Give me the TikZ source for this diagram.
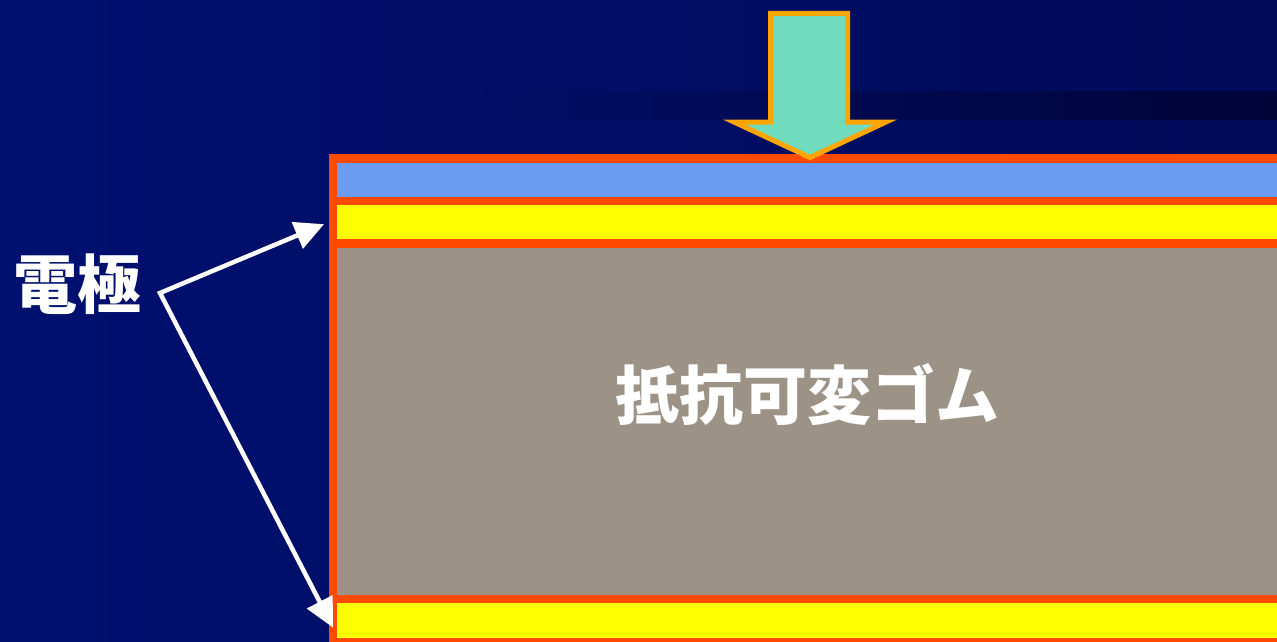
\documentclass[tikz,border=0pt]{standalone}
\usepackage{fontspec}
\newfontfamily\jpfont{Noto Sans CJK JP}
\definecolor{bgleft}{HTML}{00106F}
\definecolor{bgright}{HTML}{000A5A}
\definecolor{banddark}{HTML}{000438}
\definecolor{framered}{HTML}{FF4A00}
\definecolor{coverblue}{HTML}{6C9CF2}
\definecolor{elecyellow}{HTML}{FFFF00}
\definecolor{rubbergray}{HTML}{9C9285}
\definecolor{pressgreen}{HTML}{70DBBD}
\definecolor{pressedge}{HTML}{FFA500}
\usetikzlibrary{positioning,arrows.meta,calc}

\begin{document}
\begin{tikzpicture}[
  x=1pt, y=-1pt,
  layer/.style={
    draw=none, inner sep=0pt, anchor=north west,
    minimum width=940pt,
  },
  jplabel/.style={
    font=\jpfont\bfseries\fontsize{64}{64}\selectfont,
    text=white, inner sep=0pt,
  },
  pointer/.style={
    draw=white, line width=4.5pt, line join=miter,
    {Triangle[length=29pt,width=28pt]}-{Triangle[length=29pt,width=28pt]},
  },
  pressarrow/.style={
    draw=pressedge, fill=pressgreen, line width=5pt, line join=miter,
  },
]
\useasboundingbox (0,0) rectangle (1277,642);

% === BACKGROUND ===
\shade[left color=bgleft, right color=bgright] (0,0) rectangle (1277,642);
\shade[left color=bgleft!65!bgright, right color=banddark] (450,91) rectangle (1277,119);

% === SENSOR STACK ===
\node[layer, fill=framered, minimum width=948pt, minimum height=488pt] (frame) at (329,154) {};
\node[layer, fill=coverblue, minimum height=34pt] (cover) at (337,163) {};
\node[layer, fill=elecyellow, minimum height=34pt] (elecA) at (337,205) {};
\node[layer, fill=rubbergray, minimum height=346.6pt] (rubber) at (337,247.7) {};
\node[layer, fill=elecyellow, minimum height=34.7pt] (elecB) at (337,603) {};

\node[jplabel] (rubbername) at (807,395) {抵抗可変ゴム};

% --- ELECTRODE LABEL (fork to both yellow layers) ---
\node[jplabel] (eleclabel) at (77,284) {電極};
\coordinate (fork) at (160,293);
\coordinate (tipA) at ($(elecA.west)+(-13,2)$);
\coordinate (tipB) at ($(elecB.west)+(-4,7)$);
\draw[pointer] (tipA) -- (fork) -- (tipB);

% --- PRESSING FORCE ---
\draw[pressarrow] (770.5,13.5) -- (847.5,13.5) -- (847.5,122) -- (886,122)
  -- (810,157.5) -- (734,122) -- (770.5,122) -- cycle;

\end{tikzpicture}
\end{document}
